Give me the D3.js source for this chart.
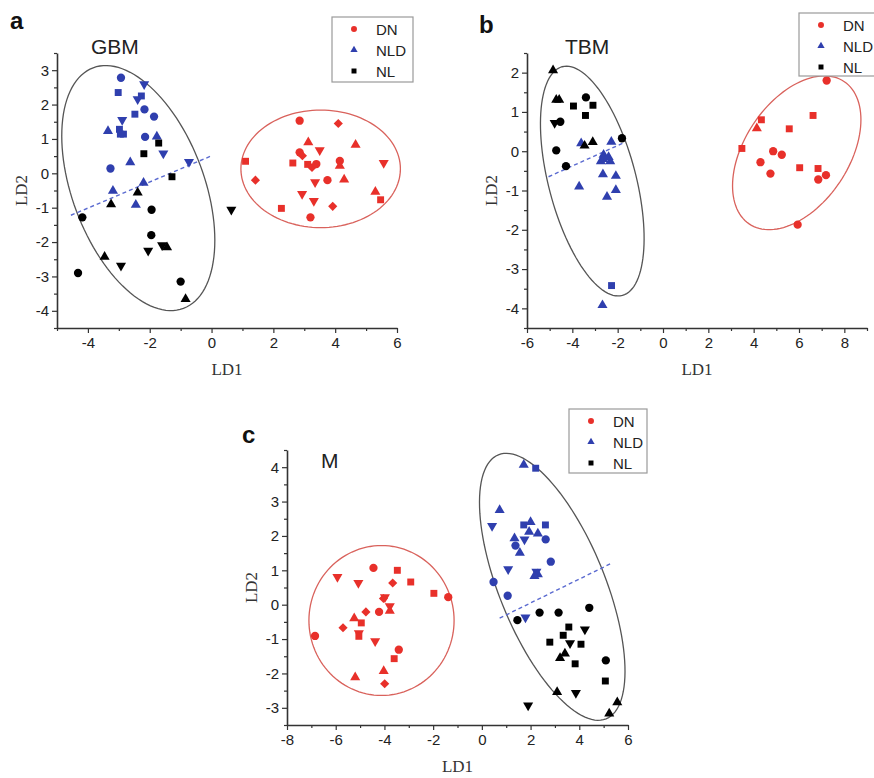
<!DOCTYPE html>
<html><head><meta charset="utf-8">
<script src="https://cdn.jsdelivr.net/npm/d3@7"></script>
<style>body{margin:0;background:#fff}svg{display:block}</style>
</head><body>
<svg id="chart" width="874" height="778"></svg>
<script>
// ---------- DATA ----------
// shape codes: o circle, s square, ^ triangle up, v triangle down, d diamond
const groups = ["DN", "NLD", "NL"];
const groupLegendShapes = ["o", "^", "s"];

// Panel a : GBM
const gbmDN = [[2.85,1.53,"o"],[4.1,1.45,"d"],[3.13,0.9,"^"],[4.66,0.83,"^"],[3.5,0.67,"v"],[2.85,0.61,"o"],[2.94,0.51,"d"],
  [1.1,0.35,"s"],[2.63,0.3,"s"],[3.11,0.26,"s"],[3.25,0.17,"d"],[3.39,0.27,"o"],[4.15,0.36,"o"],[4.15,0.22,"^"],[5.57,0.3,"v"],
  [1.42,-0.2,"d"],[3.35,-0.26,"v"],[3.75,-0.2,"o"],[4.29,-0.18,"^"],[2.93,-0.6,"v"],[5.3,-0.54,"^"],[3.31,-0.8,"v"],
  [5.47,-0.77,"s"],[2.26,-1.02,"s"],[3.92,-0.96,"d"],[3.2,-1.28,"o"]];
const gbmNLD = [[-2.93,2.78,"o"],[-3.02,2.35,"s"],[-2.18,2.59,"v"],[-2.39,2.16,"v"],[-2.27,2.25,"s"],[-2.48,1.72,"s"],
  [-2.17,1.86,"o"],[-1.86,1.65,"o"],[-2.89,1.55,"v"],[-3.35,1.23,"^"],[-2.98,1.28,"s"],[-2.95,1.14,"s"],[-2.85,1.14,"s"],
  [-2.15,1.06,"o"],[-1.77,1.07,"^"],[-1.56,0.58,"v"],[-2.63,0.32,"^"],[-3.27,0.14,"o"],[-0.73,0.33,"v"],[-2.2,-0.28,"^"],
  [-3.19,-0.51,"^"],[-2.45,-0.92,"^"]];
const gbmNL = [[-1.71,0.88,"s"],[-2.19,0.57,"s"],[-1.28,-0.1,"s"],[-2.39,-0.56,"^"],[-3.25,-0.9,"^"],[-1.94,-1.06,"o"],
  [-4.18,-1.28,"o"],[0.64,-1.06,"v"],[-1.95,-1.8,"o"],[-2.05,-2.25,"v"],[-1.6,-2.09,"v"],[-1.44,-2.15,"^"],[-3.46,-2.43,"^"],
  [-2.93,-2.69,"v"],[-4.32,-2.9,"o"],[-1.0,-3.15,"o"],[-0.84,-3.66,"^"]];
const gbmEllipses = [{group:"NL", c:[-2.37,-0.43], u:[1.46,-3.50], v:[2.0,0.675]},
                     {group:"DN", c:[3.53,0.13], u:[2.58,0], v:[0,1.71]}];
const gbmSplit = [[-4.55,-1.22],[-0.05,0.49]];
const gbmXTicks = [-4,-2,0,2,4,6], gbmYTicks = [-4,-3,-2,-1,0,1,2,3];

// Panel b : TBM
const tbmDN = [[7.22,1.8,"o"],[6.62,0.91,"s"],[4.34,0.8,"s"],[4.14,0.58,"^"],[5.57,0.57,"s"],[3.48,0.07,"s"],[4.86,0.0,"o"],
  [5.24,-0.09,"o"],[4.3,-0.28,"o"],[6.03,-0.42,"s"],[6.84,-0.44,"s"],[4.74,-0.57,"o"],[7.19,-0.61,"o"],[6.85,-0.72,"o"],[5.94,-1.87,"o"]];
const tbmNLD = [[-3.61,0.2,"^"],[-2.28,0.24,"^"],[-2.62,-0.09,"^"],[-2.4,-0.15,"^"],[-2.74,-0.26,"^"],[-2.33,-0.26,"^"],
  [-2.65,-0.2,"^"],[-2.65,-0.59,"^"],[-2.08,-0.63,"^"],[-3.7,-0.9,"^"],[-2.08,-0.99,"^"],[-2.47,-1.16,"^"],[-2.27,-3.42,"s"],[-2.67,-3.92,"^"]];
const tbmNL = [[-4.85,2.06,"^"],[-4.71,1.31,"^"],[-4.58,1.31,"^"],[-3.4,1.37,"o"],[-3.95,1.15,"s"],[-3.09,1.17,"s"],[-3.42,0.91,"s"],
  [-4.78,0.72,"v"],[-4.53,0.75,"o"],[-3.46,0.14,"^"],[-3.1,0.23,"^"],[-1.81,0.33,"o"],[-4.71,0.02,"o"],[-4.28,-0.38,"o"]];
const tbmEllipses = [{group:"NL", c:[-3.12,-0.76], u:[1.33,-2.91], v:[1.86,0.29]},
                     {group:"DN", c:[5.9,-0.04], u:[2.10,1.81], v:[1.90,-0.745]}];
const tbmSplit = [[-5.05,-0.65],[-1.67,0.23]];
const tbmXTicks = [-6,-4,-2,0,2,4,6,8], tbmYTicks = [-4,-3,-2,-1,0,1,2];

// Panel c : M
const mDN = [[-5.93,0.81,"v"],[-4.45,1.07,"o"],[-3.47,1.0,"s"],[-5.07,0.63,"v"],[-3.66,0.63,"d"],[-2.92,0.66,"s"],[-1.97,0.33,"s"],
  [-1.38,0.22,"o"],[-4.04,0.18,"d"],[-3.98,0.22,"v"],[-3.78,-0.04,"v"],[-3.78,-0.18,"^"],[-4.76,-0.21,"d"],[-4.22,-0.21,"o"],
  [-5.24,-0.4,"^"],[-4.95,-0.53,"s"],[-5.7,-0.67,"d"],[-5.05,-0.83,"v"],[-5.05,-0.92,"s"],[-6.85,-0.91,"o"],[-4.38,-1.06,"v"],
  [-3.41,-1.31,"o"],[-3.6,-1.57,"s"],[-4.03,-1.93,"^"],[-5.2,-2.11,"^"],[-3.99,-2.3,"d"]];
const mNLD = [[1.72,4.07,"^"],[2.21,3.97,"s"],[0.73,2.75,"^"],[0.42,2.29,"v"],[1.72,2.32,"s"],[2.0,2.4,"^"],[2.61,2.32,"s"],
  [1.94,2.12,"^"],[2.3,2.07,"^"],[1.34,1.93,"^"],[1.75,1.9,"v"],[2.62,1.9,"o"],[1.38,1.72,"o"],[1.56,1.51,"^"],[2.83,1.25,"o"],
  [1.08,1.03,"v"],[2.24,0.96,"v"],[2.3,0.88,"^"],[2.16,0.83,"^"],[0.48,0.66,"o"],[1.06,0.26,"o"],[1.79,-0.37,"v"]];
const mNL = [[1.46,-0.45,"o"],[2.37,-0.23,"o"],[3.15,-0.23,"o"],[4.41,-0.09,"o"],[4.23,-0.72,"v"],[3.57,-0.65,"s"],[3.34,-0.89,"s"],
  [2.79,-1.09,"s"],[3.62,-1.12,"v"],[4.07,-1.15,"s"],[3.41,-1.42,"^"],[3.21,-1.55,"^"],[3.83,-1.72,"s"],[5.09,-1.62,"o"],
  [5.07,-2.22,"s"],[3.09,-2.54,"^"],[3.86,-2.57,"v"],[1.9,-2.93,"v"],[5.56,-2.84,"^"],[5.23,-3.17,"^"]];
const mEllipses = [{group:"NL", c:[2.89,0.52], u:[2.21,-3.84], v:[2.01,0.575]},
                   {group:"DN", c:[-4.12,-0.46], u:[2.98,0], v:[0,2.18]}];
const mSplit = [[0.73,-0.39],[5.31,1.2]];
const mXTicks = [-8,-6,-4,-2,0,2,4,6], mYTicks = [-3,-2,-1,0,1,2,3,4];

// ---------- STYLE ----------
const colors = {DN:"#e8302a", NLD:"#2f3fae", NL:"#000000"};
const ellipseColors = {DN:"#d9625c", NL:"#555555"};
const svg = d3.select("#chart");
const sans = "'Liberation Sans', Arial, sans-serif";
const serif = "'Liberation Serif', 'Times New Roman', serif";

function symbolPath(code, scale) {
  const k = scale || 1;
  if (code === "o") return d3.symbol(d3.symbolCircle, 54*k*k)();
  if (code === "s") return d3.symbol(d3.symbolSquare, 48*k*k)();
  if (code === "^" || code === "v") return d3.symbol(d3.symbolTriangle, 44*k*k)();
  if (code === "d") return d3.symbol(d3.symbolSquare, 42*k*k)();
  return d3.symbol(d3.symbolCircle, 50*k*k)();
}
function symbolRotate(code) {
  if (code === "v") return 180;
  if (code === "d") return 45;
  return 0;
}

function drawPanel(cfg) {
  const x = d3.scaleLinear().domain(cfg.xDomain).range([cfg.left, cfg.right]);
  const y = d3.scaleLinear().domain(cfg.yDomain).range([cfg.bottom, cfg.top]);
  const g = svg.append("g");

  // ellipses
  cfg.ellipses.forEach(e => {
    const pts = d3.range(0, 361, 3).map(t => {
      const r = t*Math.PI/180;
      return [x(e.c[0] + e.u[0]*Math.cos(r) + e.v[0]*Math.sin(r)),
              y(e.c[1] + e.u[1]*Math.cos(r) + e.v[1]*Math.sin(r))];
    });
    g.append("path").attr("d", d3.line().curve(d3.curveLinearClosed)(pts))
      .attr("fill","none").attr("stroke", ellipseColors[e.group]).attr("stroke-width",1.3);
  });

  // dashed split line
  g.append("path").attr("d", d3.line().x(d=>x(d[0])).y(d=>y(d[1]))(cfg.split))
    .attr("fill","none").attr("stroke","#5a6ad0").attr("stroke-width",1.4).attr("stroke-dasharray","4,3");

  // points
  const series = [["DN",cfg.DN],["NLD",cfg.NLD],["NL",cfg.NL]];
  series.forEach(([grp, arr]) => {
    g.selectAll(null).data(arr).enter().append("path")
      .attr("d", d => symbolPath(d[2]))
      .attr("transform", d => `translate(${x(d[0])},${y(d[1])}) rotate(${symbolRotate(d[2])})`)
      .attr("fill", colors[grp]);
  });

  // axes
  const xMinor = d3.range(cfg.xDomain[0], cfg.xDomain[1]+0.001, 1).filter(v => !cfg.xTicks.includes(v));
  const yMinor = d3.range(cfg.yDomain[0], cfg.yDomain[1]+0.001, 0.5).filter(v => !cfg.yTicks.includes(v));
  const xa = g.append("g").attr("transform", `translate(0,${cfg.bottom})`);
  xa.call(d3.axisBottom(x).tickValues(xMinor).tickSize(3).tickFormat("")).call(s=>s.select(".domain").remove());
  const xa2 = g.append("g").attr("transform", `translate(0,${cfg.bottom})`);
  xa2.call(d3.axisBottom(x).tickValues(cfg.xTicks).tickSize(5).tickPadding(4).tickSizeOuter(0).tickFormat(d=>String(d)));
  const ya = g.append("g").attr("transform", `translate(${cfg.left},0)`);
  ya.call(d3.axisLeft(y).tickValues(yMinor).tickSize(3).tickFormat("")).call(s=>s.select(".domain").remove());
  const ya2 = g.append("g").attr("transform", `translate(${cfg.left},0)`);
  ya2.call(d3.axisLeft(y).tickValues(cfg.yTicks).tickSize(5).tickPadding(3).tickSizeOuter(0).tickFormat(d=>String(d)));
  g.selectAll(".domain").attr("stroke","#333").attr("stroke-width",1.6);
  g.selectAll(".tick line").attr("stroke","#333").attr("stroke-width",1.2);
  g.selectAll(".tick text").attr("font-family",sans).attr("font-size",15).attr("fill","#222");

  // axis labels
  g.append("text").attr("x",(cfg.left+cfg.right)/2).attr("y",cfg.bottom+47).attr("text-anchor","middle")
    .attr("font-family",serif).attr("font-size",17).attr("fill","#333").text("LD1");
  g.append("text").attr("transform",`translate(${cfg.left-36},${(cfg.top+cfg.bottom)/2}) rotate(-90)`)
    .attr("text-anchor","middle").attr("dominant-baseline","central")
    .attr("font-family",serif).attr("font-size",17).attr("fill","#333").text("LD2");

  // panel letter and title
  g.append("text").attr("x",cfg.letterX).attr("y",cfg.letterY).attr("font-family",sans).attr("font-weight","bold")
    .attr("font-size",24).attr("fill","#111").text(cfg.letter);
  g.append("text").attr("x",cfg.titleX).attr("y",cfg.titleY).attr("font-family",sans)
    .attr("font-size",21).attr("fill","#222").text(cfg.title);

  // legend
  const L = cfg.legend;
  g.append("rect").attr("x",L.x).attr("y",L.y).attr("width",L.w).attr("height",L.h)
    .attr("fill","#fff").attr("stroke","#9a9a9a").attr("stroke-width",1.2);
  groups.forEach((grp,i) => {
    const yy = L.y + 12 + i*21;
    g.append("path").attr("d", symbolPath(groupLegendShapes[i], 0.72))
      .attr("transform",`translate(${L.x+22},${yy})`).attr("fill",colors[grp]);
    g.append("text").attr("x",L.x+44).attr("y",yy).attr("dominant-baseline","central")
      .attr("font-family",sans).attr("font-size",15).attr("fill","#222").text(grp);
  });
}

drawPanel({left:57,right:397,top:53,bottom:328,xDomain:[-5,6],yDomain:[-4.5,3.5],
  xTicks:gbmXTicks,yTicks:gbmYTicks,DN:gbmDN,NLD:gbmNLD,NL:gbmNL,ellipses:gbmEllipses,split:gbmSplit,
  letter:"a",letterX:10,letterY:29,title:"GBM",titleX:91,titleY:54,legend:{x:332,y:17,w:81,h:65}});
drawPanel({left:527,right:867,top:53,bottom:328,xDomain:[-6,9],yDomain:[-4.5,2.5],
  xTicks:tbmXTicks,yTicks:tbmYTicks,DN:tbmDN,NLD:tbmNLD,NL:tbmNL,ellipses:tbmEllipses,split:tbmSplit,
  letter:"b",letterX:479,letterY:33,title:"TBM",titleX:565,titleY:54,legend:{x:799,y:13,w:90,h:63}});
drawPanel({left:287,right:628,top:450,bottom:725,xDomain:[-8,6],yDomain:[-3.5,4.5],
  xTicks:mXTicks,yTicks:mYTicks,DN:mDN,NLD:mNLD,NL:mNL,ellipses:mEllipses,split:mSplit,
  letter:"c",letterX:242,letterY:443,title:"M",titleX:321,titleY:468,legend:{x:569,y:409,w:78,h:64}});
</script>
</body></html>
